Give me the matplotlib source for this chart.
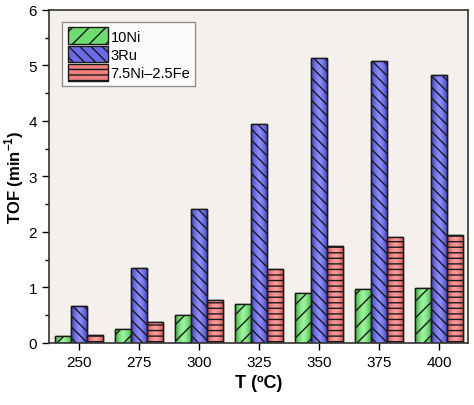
import numpy as np
import matplotlib.pyplot as plt
from matplotlib.colors import LinearSegmentedColormap

plt.rcParams['font.family'] = ['Liberation Sans', 'DejaVu Sans']
plt.rcParams['hatch.linewidth'] = 1.0

temps = [250, 275, 300, 325, 350, 375, 400]
tof_10ni = [0.12, 0.25, 0.50, 0.70, 0.90, 0.97, 0.99]
tof_3ru = [0.67, 1.35, 2.42, 3.95, 5.13, 5.08, 4.82]
tof_nife = [0.14, 0.37, 0.77, 1.33, 1.74, 1.90, 1.95]
names = ['10Ni', '3Ru', '7.5Ni\u20132.5Fe']

fig = plt.figure(figsize=(4.74, 4.06), dpi=100)
ax = fig.add_axes([0.103, 0.153, 0.884, 0.82])
ax.set_facecolor('#f4f0eb')

x = np.array(temps, dtype=float)
w = 6.7
# (values, edge shade, centre shade, mid colour, hatch, offset)
series = [(tof_10ni, '#3aa83a', '#9af59a', '#6fdc6f', '//', -w),
          (tof_3ru, '#3c3cb4', '#8c8cff', '#6b6bea', '\\\\\\', 0),
          (tof_nife, '#c84c4c', '#ff9c9c', '#f07f7f', '---', w)]
grad = np.abs(np.linspace(-1, 1, 64)) ** 1.5
grad = (1 - grad)[None, :]
for (vals, c_edge, c_mid, col, hat, off), name in zip(series, names):
    cmap = LinearSegmentedColormap.from_list('g', [c_edge, c_mid])
    bars = ax.bar(x + off, vals, width=w, color=col, edgecolor='#1a1a1a',
                  linewidth=1.0, hatch=hat, label=name, zorder=2)
    for b in bars:
        x0, y0 = b.get_x(), b.get_y()
        im = ax.imshow(grad, cmap=cmap, aspect='auto', vmin=0, vmax=1,
                       extent=(x0, x0 + b.get_width(), y0, y0 + b.get_height()),
                       zorder=2.1, interpolation='bilinear')
        im.set_clip_path(b)
    # hatch and outline drawn over the gradient
    ax.bar(x + off, vals, width=w, color='none', edgecolor='#1a1a1a',
           linewidth=1.0, hatch=hat, zorder=2.2)

ax.set_xlim(237.5, 412)
ax.set_ylim(0, 6)
ax.set_xticks(temps)
ax.set_yticks(range(7))
ax.set_yticks(np.arange(0.5, 6, 1), minor=True)
ax.tick_params(axis='both', labelsize=11, direction='out', length=5, width=1)
ax.tick_params(axis='y', which='minor', length=3, width=1)
ax.set_xlabel('T (ºC)', fontsize=13, fontweight='bold')
ax.set_ylabel('TOF (min$^{\\mathregular{-1}}$)', fontsize=12, fontweight='bold',
              labelpad=2)
for s in ax.spines.values():
    s.set_linewidth(1.2)
    s.set_color('#333333')
    s.set_zorder(3)

leg = ax.legend(loc='upper left', bbox_to_anchor=(0.015, 0.985), fontsize=10.5,
                frameon=True, fancybox=False, edgecolor='#777777',
                handlelength=2.75, handleheight=1.4, labelspacing=0.1,
                handletextpad=0.2, borderpad=0.35)
leg.get_frame().set_facecolor('white')
leg.set_zorder(4)

fig.savefig('out.png', dpi=100)
